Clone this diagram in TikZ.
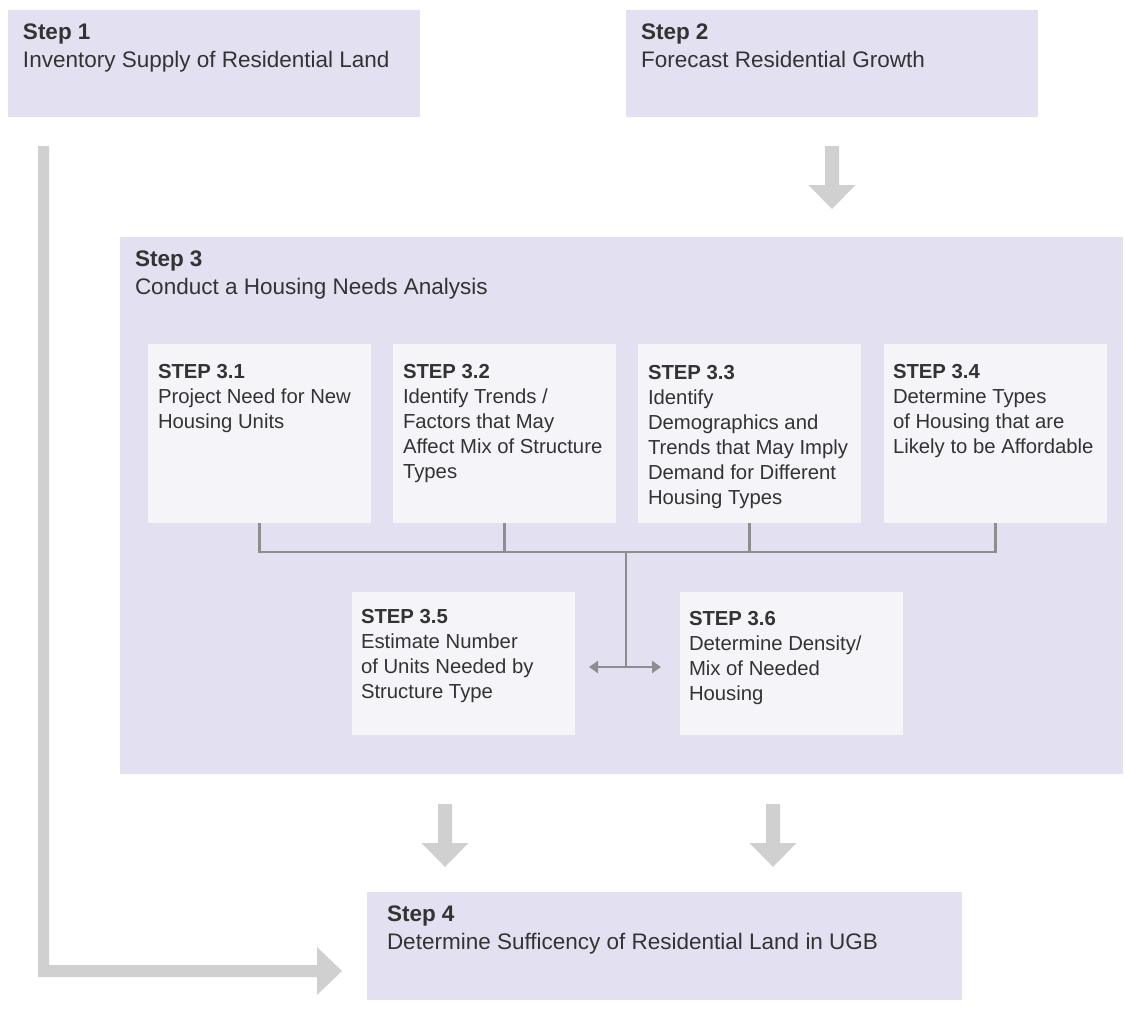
\documentclass[tikz,border=0pt]{standalone}
\usepackage{fontspec}
\setmainfont{Liberation Sans}
\usetikzlibrary{arrows.meta,calc}
\definecolor{outerfill}{RGB}{227,225,241}
\definecolor{innerfill}{RGB}{244,244,249}
\definecolor{fatgray}{RGB}{208,208,208}
\definecolor{linegray}{RGB}{142,142,142}
\definecolor{ink}{RGB}{51,51,51}
\newcommand\fatdownarrow[3]{%
  \fill[fatgray] (#1-7,#2) -- (#1+7,#2) -- (#1+7,#3-24) -- (#1+23.5,#3-24) -- (#1,#3)
    -- (#1-23.5,#3-24) -- (#1-7,#3-24) -- cycle;}
\begin{document}
\begin{tikzpicture}[x=1pt,y=-1pt,
  outerbox/.style={fill=outerfill, draw=none, anchor=north west, inner sep=0pt, outer sep=0pt},
  innerbox/.style={fill=innerfill, draw=none, anchor=north west, inner sep=0pt, outer sep=0pt},
  bigtext/.style={anchor=base west, inner sep=0pt, outer sep=0pt, align=left, text=ink,
    font=\fontsize{22.5}{28}\selectfont},
  smalltext/.style={anchor=base west, inner sep=0pt, outer sep=0pt, align=left, text=ink,
    font=\fontsize{20.3}{25}\selectfont},
  conn/.style={draw=linegray, line width=2.2pt},
  tip/.style={-{Triangle[length=9pt,width=12pt]}}
]
\useasboundingbox (0,0) rectangle (1125,1010);

% outer boxes
\node[outerbox, minimum width=412pt, minimum height=107pt] (s1) at (8,10) {};
\node[outerbox, minimum width=412pt, minimum height=107pt] (s2) at (626,10) {};
\node[outerbox, minimum width=1003pt, minimum height=537pt] (s3) at (120,237) {};
\node[outerbox, minimum width=595pt, minimum height=108pt] (s4) at (367,892) {};

% inner boxes
\node[innerbox, minimum width=223pt, minimum height=179pt] (b31) at (148,344) {};
\node[innerbox, minimum width=223pt, minimum height=179pt] (b32) at (393,344) {};
\node[innerbox, minimum width=223pt, minimum height=179pt] (b33) at (638,344) {};
\node[innerbox, minimum width=223pt, minimum height=179pt] (b34) at (884,344) {};
\node[innerbox, minimum width=223pt, minimum height=143pt] (b35) at (352,592) {};
\node[innerbox, minimum width=223pt, minimum height=143pt] (b36) at (680,592) {};

% texts (anchor = baseline of the last line)
\node[bigtext] (t1) at (23,67) {\textbf{Step 1}\\Inventory Supply of Residential Land};
\node[bigtext] (t2) at (641,67) {\textbf{Step 2}\\Forecast Residential Growth};
\node[bigtext] (t3) at (135,294) {\textbf{Step 3}\\Conduct a Housing Needs Analysis};
\node[bigtext] (t4) at (387,949) {\textbf{Step 4}\\Determine Sufficency of Residential Land in UGB};

\node[smalltext] (t31) at (158,428) {\textbf{STEP 3.1}\\Project Need for New\\Housing Units};
\node[smalltext] (t32) at (403,478) {\textbf{STEP 3.2}\\Identify Trends /\\Factors that May\\Affect Mix of Structure\\Types};
\node[smalltext] (t33) at (648,504) {\textbf{STEP 3.3}\\Identify\\Demographics and\\Trends that May Imply\\Demand for Different\\Housing Types};
\node[smalltext] (t34) at (893,453) {\textbf{STEP 3.4}\\Determine Types\\of Housing that are\\Likely to be Affordable};
\node[smalltext] (t35) at (361,698) {\textbf{STEP 3.5}\\Estimate Number\\of Units Needed by\\Structure Type};
\node[smalltext] (t36) at (689,700) {\textbf{STEP 3.6}\\Determine Density/\\Mix of Needed\\Housing};

% connectors inside step 3
\coordinate (hub) at (626,552);
\coordinate (hubdown) at (626,667);
\draw[conn] (b31.south) |- (b34.south |- hub) -- (b34.south);
\draw[conn] (b32.south) -- (b32.south |- hub);
\draw[conn] (b33.south) -- (b33.south |- hub);
\draw[conn] (hub) -- (hubdown);
\draw[conn, tip] (hubdown) -- ([xshift=14pt]b35.east |- hubdown);
\draw[conn, tip] (hubdown) -- ([xshift=-19pt]b36.west |- hubdown);

% fat arrows
\fatdownarrow{832}{146}{209}
\fatdownarrow{445}{804}{867}
\fatdownarrow{773}{804}{867}
\fill[fatgray] (38,146) -- (49,146) -- (49,965) -- (317,965) -- (317,947) -- (342,971)
  -- (317,995) -- (317,977) -- (38,977) -- cycle;
\end{tikzpicture}
\end{document}
